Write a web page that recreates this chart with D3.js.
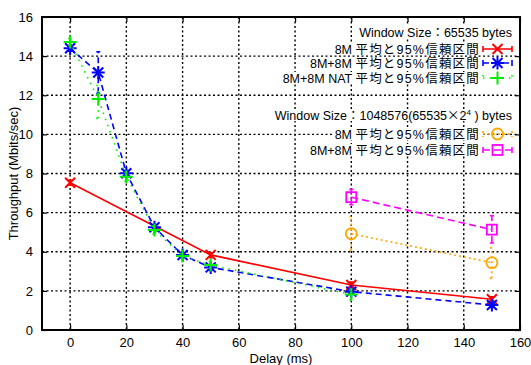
<!DOCTYPE html>
<html>
<head>
<meta charset="utf-8">
<script src="https://cdn.jsdelivr.net/npm/d3@7"></script>
<style>
  body { margin: 0; background: #fff; }
  text { font-family: "Liberation Sans", Arial, "Noto Sans CJK JP", sans-serif; }
</style>
</head>
<body>
<div id="chart"></div>
<script>
// delay (ms) -> throughput (Mbits/sec), mean with 95% confidence interval
var delay8M = [0, 50, 100, 150];
var mean8M = [7.53, 3.84, 2.3, 1.57];
var lo8M = [7.4, 3.7, 2.15, 1.45];
var hi8M = [7.65, 3.95, 2.45, 1.7];

var delay88 = [0, 10, 20, 30, 40, 50, 100, 150];
var mean88 = [14.4, 13.16, 8.01, 5.25, 3.83, 3.2, 1.96, 1.28];
var lo88 = [14.25, 12.1, 7.85, 5.1, 3.7, 3.05, 1.85, 1.15];
var hi88 = [14.55, 14.22, 8.15, 5.4, 3.95, 3.35, 2.07, 1.4];

var delayNat = [0, 10, 20, 30, 40, 50, 100];
var meanNat = [14.72, 11.81, 7.84, 5.11, 3.78, 3.32, 1.82];
var loNat = [14.55, 10.82, 7.6, 4.9, 3.65, 3.15, 1.53];
var hiNat = [14.9, 12.5, 8.05, 5.3, 3.9, 3.5, 2.05];

var delayBig = [100, 150];
var mean8MBig = [4.92, 3.44];
var lo8MBig = [4.07, 2.64];
var hi8MBig = [5.8, 4.2];
var mean88Big = [6.79, 5.13];
var lo88Big = [6.4, 4.45];
var hi88Big = [7.19, 5.84];

var xTicks = [0, 20, 40, 60, 80, 100, 120, 140, 160];
var yTicks = [0, 2, 4, 6, 8, 10, 12, 14, 16];

var W = 531, H = 365;
var margin = { top: 17, right: 11, bottom: 35, left: 42 };
var width = W - margin.left - margin.right,
  height = H - margin.top - margin.bottom;

var svg = d3.select("#chart").append("svg")
  .attr("width", W)
  .attr("height", H);

var g = svg.append("g")
  .attr("transform", "translate(" + margin.left + "," + margin.top + ")");

var x = d3.scaleLinear().domain([-10, 160]).range([0, width]);
var y = d3.scaleLinear().domain([0, 16]).range([height, 0]);

// grid
g.append("g").selectAll("line").data(xTicks.slice(0, -1)).enter().append("line")
  .attr("x1", d => x(d)).attr("x2", d => x(d))
  .attr("y1", 0).attr("y2", height)
  .attr("stroke", "#000").attr("stroke-width", 1.4).attr("stroke-dasharray", "2,2.5");
g.append("g").selectAll("line").data(yTicks.slice(1, -1)).enter().append("line")
  .attr("y1", d => y(d)).attr("y2", d => y(d))
  .attr("x1", 0).attr("x2", width)
  .attr("stroke", "#000").attr("stroke-width", 1.4).attr("stroke-dasharray", "2,2.5");

// axes (ticks inward, mirrored)
var fontSize = "13px";
g.append("g").attr("transform", "translate(0," + height + ")")
  .call(d3.axisBottom(x).tickValues(xTicks).tickSize(-5).tickPadding(8));
g.append("g")
  .call(d3.axisLeft(y).tickValues(yTicks).tickSize(-5).tickPadding(9));
g.append("g").call(d3.axisTop(x).tickValues(xTicks).tickSize(-5).tickFormat(""));
g.append("g").attr("transform", "translate(" + width + ",0)")
  .call(d3.axisRight(y).tickValues(yTicks).tickSize(-5).tickFormat(""));
g.selectAll(".domain").remove();
g.selectAll(".tick line").attr("stroke", "#000").attr("stroke-width", 1.2);
g.selectAll(".tick text").attr("font-size", fontSize).attr("fill", "#000")
  .attr("font-family", "'Liberation Sans', Arial, sans-serif");

g.append("rect").attr("width", width).attr("height", height)
  .attr("fill", "none").attr("stroke", "#000").attr("stroke-width", 2);

svg.append("text")
  .attr("x", margin.left + width / 2).attr("y", H - 2)
  .attr("text-anchor", "middle").attr("font-size", fontSize)
  .text("Delay (ms)");
svg.append("text")
  .attr("transform", "translate(18," + (margin.top + height / 2) + ") rotate(-90)")
  .attr("text-anchor", "middle").attr("font-size", fontSize)
  .text("Throughput (Mbits/sec)");

// markers
function marker(sel, type, color, cx, cy) {
  var s = 5;
  if (type === "x" || type === "star") {
    sel.append("path").attr("d", "M" + (cx - s) + "," + (cy - s) + "L" + (cx + s) + "," + (cy + s) +
      "M" + (cx - s) + "," + (cy + s) + "L" + (cx + s) + "," + (cy - s))
      .attr("stroke", color).attr("stroke-width", 2).attr("fill", "none");
  }
  if (type === "plus" || type === "star") {
    var p = 6.5;
    sel.append("path").attr("d", "M" + (cx - p) + "," + cy + "L" + (cx + p) + "," + cy +
      "M" + cx + "," + (cy - p) + "L" + cx + "," + (cy + p))
      .attr("stroke", color).attr("stroke-width", 2).attr("fill", "none");
  }
  if (type === "circle") {
    sel.append("circle").attr("cx", cx).attr("cy", cy).attr("r", 5.5)
      .attr("stroke", color).attr("stroke-width", 1.8).attr("fill", "none");
  }
  if (type === "square") {
    sel.append("rect").attr("x", cx - 5).attr("y", cy - 5).attr("width", 10).attr("height", 10)
      .attr("stroke", color).attr("stroke-width", 1.8).attr("fill", "none");
  }
}

var series = [
  { xs: delay8M, m: mean8M, lo: lo8M, hi: hi8M, color: "#ff0000", dash: null, type: "x" },
  { xs: delay88, m: mean88, lo: lo88, hi: hi88, color: "#0000ff", dash: "6,4", type: "star" },
  { xs: delayNat, m: meanNat, lo: loNat, hi: hiNat, color: "#00ee00", dash: "1.5,5", type: "plus" },
  { xs: delayBig, m: mean8MBig, lo: lo8MBig, hi: hi8MBig, color: "#ffa500", dash: "2,3", type: "circle" },
  { xs: delayBig, m: mean88Big, lo: lo88Big, hi: hi88Big, color: "#ff00ff", dash: "7,4", type: "square" }
];

var line = d3.line().x(d => x(d[0])).y(d => y(d[1]));

series.forEach(function(s) {
  var pts = s.xs.map((d, i) => [d, s.m[i], s.lo[i], s.hi[i]]);
  var sg = g.append("g");
  sg.append("path").attr("d", line(pts))
    .attr("fill", "none").attr("stroke", s.color).attr("stroke-width", 1.6)
    .attr("stroke-dasharray", s.dash);
  sg.selectAll(".eb").data(pts).enter().append("path")
    .attr("d", d => "M" + x(d[0]) + "," + y(d[2]) + "L" + x(d[0]) + "," + y(d[3]) +
      "M" + (x(d[0]) - 2) + "," + y(d[2]) + "L" + (x(d[0]) + 2) + "," + y(d[2]) +
      "M" + (x(d[0]) - 2) + "," + y(d[3]) + "L" + (x(d[0]) + 2) + "," + y(d[3]))
    .attr("fill", "none").attr("stroke", s.color).attr("stroke-width", 1.6)
    .attr("stroke-dasharray", s.dash);
  pts.forEach(d => marker(sg, s.type, s.color, x(d[0]), y(d[1])));
});

// legend
var legendRows = [
  { label: "Window Size：65535 bytes", y: 32, head: true },
  { label: "8M", y: 49, s: 0 },
  { label: "8M+8M", y: 63, s: 1 },
  { label: "8M+8M NAT", y: 78, s: 2 },
  { label: null, y: 115, head: true },
  { label: "8M", y: 134, s: 3 },
  { label: "8M+8M", y: 150, s: 4 }
];
var jpLabel = "平均と95%信頼区間";
var lg = svg.append("g");
legendRows.forEach(function(r) {
  var t;
  if (r.head) {
    t = lg.append("text").attr("x", 512).attr("y", r.y + 4.5)
      .attr("text-anchor", "end").attr("font-size", "12.5px");
    if (r.label) t.text(r.label);
    else {
      t.append("tspan").text("Window Size：1048576(65535");
      t.append("tspan").attr("font-family", "'Noto Sans CJK JP'").text("×");
      t.append("tspan").text("2");
      t.append("tspan").attr("font-size", "8px").attr("dy", -5).text("4");
      t.append("tspan").attr("dy", 5).text("  ) bytes");
    }
  } else {
    t = lg.append("text").attr("x", 480).attr("y", r.y + 4.5)
      .attr("text-anchor", "end").attr("font-size", "12.5px");
    t.append("tspan").text(r.label + " ");
    t.append("tspan").attr("letter-spacing", "1.2px").text(jpLabel);
  }
  var bb = t.node().getBBox();
  lg.insert("rect", "text").attr("x", bb.x - 1).attr("y", r.y - 6).attr("width", bb.width + 2).attr("height", 12)
    .attr("fill", "#fff");
  if (!r.head) {
    var s = series[r.s];
    lg.append("path").attr("d", "M483," + r.y + "L512," + r.y +
      "M483," + (r.y - 3) + "L483," + (r.y + 3) + "M512," + (r.y - 3) + "L512," + (r.y + 3))
      .attr("fill", "none").attr("stroke", s.color).attr("stroke-width", 1.6)
      .attr("stroke-dasharray", s.dash);
    marker(lg, s.type, s.color, 497.5, r.y);
  }
});
</script>
</body>
</html>
